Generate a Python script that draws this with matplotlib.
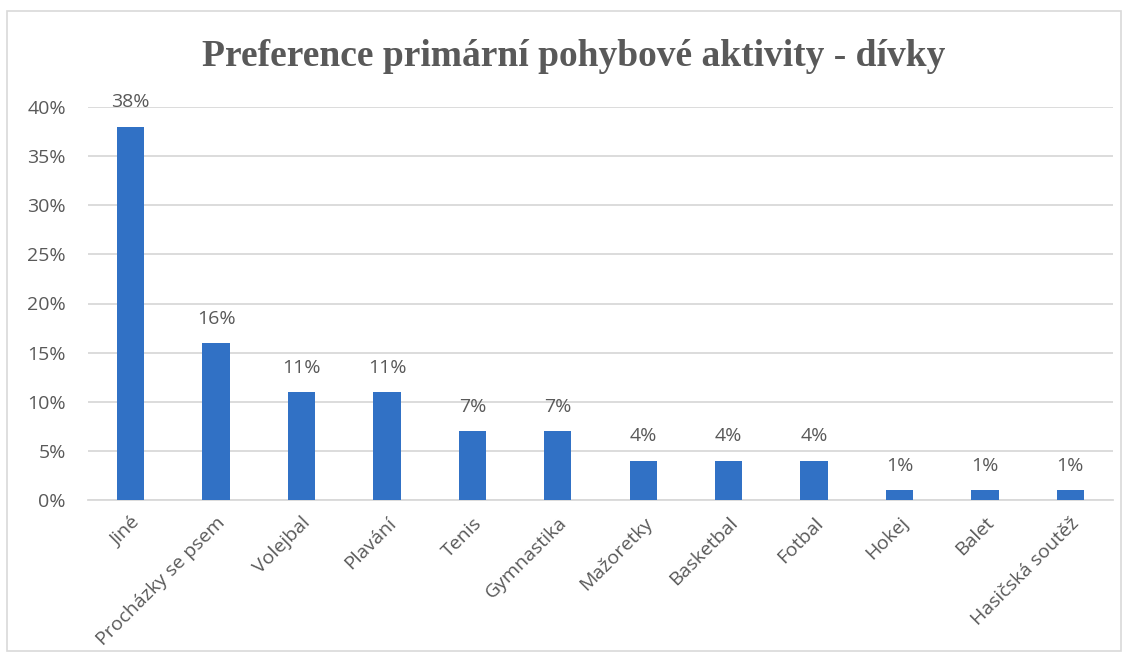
import matplotlib
matplotlib.use("Agg")
import matplotlib.pyplot as plt
from matplotlib.patches import Rectangle
from matplotlib.ticker import FuncFormatter

categories = ["Jiné", "Procházky se psem", "Volejbal", "Plavání", "Tenis", "Gymnastika",
              "Mažoretky", "Basketbal", "Fotbal", "Hokej", "Balet", "Hasičská soutěž"]
values = [0.38, 0.16, 0.11, 0.11, 0.07, 0.07, 0.04, 0.04, 0.04, 0.01, 0.01, 0.01]
yticks = [0, 0.05, 0.10, 0.15, 0.20, 0.25, 0.30, 0.35, 0.40]
title = "Preference primární pohybové aktivity - dívky"

W, H = 1130, 657
fig = plt.figure(figsize=(W / 100, H / 100), dpi=100)
fig.patch.set_facecolor("white")

# chart border
fig.patches.append(Rectangle((7 / W, 1 - 651 / H), (1121 - 7) / W, (651 - 11) / H,
                             transform=fig.transFigure, fill=False,
                             edgecolor="#D9D9D9", linewidth=1.2))

left, right, top, bottom = 88, 1113, 107, 500
ax = fig.add_axes([left / W, 1 - bottom / H, (right - left) / W, (bottom - top) / H])

txt_color = "#595959"
font = ["Open Sans", "DejaVu Sans"]
fs = 14
x = list(range(len(categories)))
ax.bar(x, values, width=0.32, color="#3171C5", zorder=3)
ax.set_xlim(-0.5, len(categories) - 0.5)
ax.set_ylim(0, 0.40)
ax.set_yticks(yticks)
ax.yaxis.set_major_formatter(FuncFormatter(lambda v, p: f"{v*100:.0f}%"))
ax.grid(axis="y", color="#D9D9D9", linewidth=1.3, zorder=0)
for s in ["top", "right", "left"]:
    ax.spines[s].set_visible(False)
ax.spines["bottom"].set_color("#D9D9D9")
ax.spines["bottom"].set_linewidth(1.3)
ax.tick_params(axis="both", length=0, colors=txt_color, labelsize=fs)
ax.tick_params(axis="y", pad=16)
ax.set_xticks(x)
ax.set_xticklabels(categories, rotation=45, ha="right", rotation_mode="anchor",
                   family=font, fontsize=fs, color=txt_color)
for lab in ax.get_yticklabels():
    lab.set_family(font)
ax.tick_params(axis="x", pad=10)

for xi, v in zip(x, values):
    ax.annotate(f"{v*100:.0f}%", (xi, v), xytext=(0, 11), textcoords="offset points",
                ha="center", va="bottom", fontsize=fs, color=txt_color, family=font)

fig.text(574 / W, 1 - 56 / H, title, ha="center", va="center",
         family=["Liberation Serif", "DejaVu Serif"], fontweight="bold",
         fontsize=27, color=txt_color)

fig.savefig("out.png", dpi=100, facecolor="white")
